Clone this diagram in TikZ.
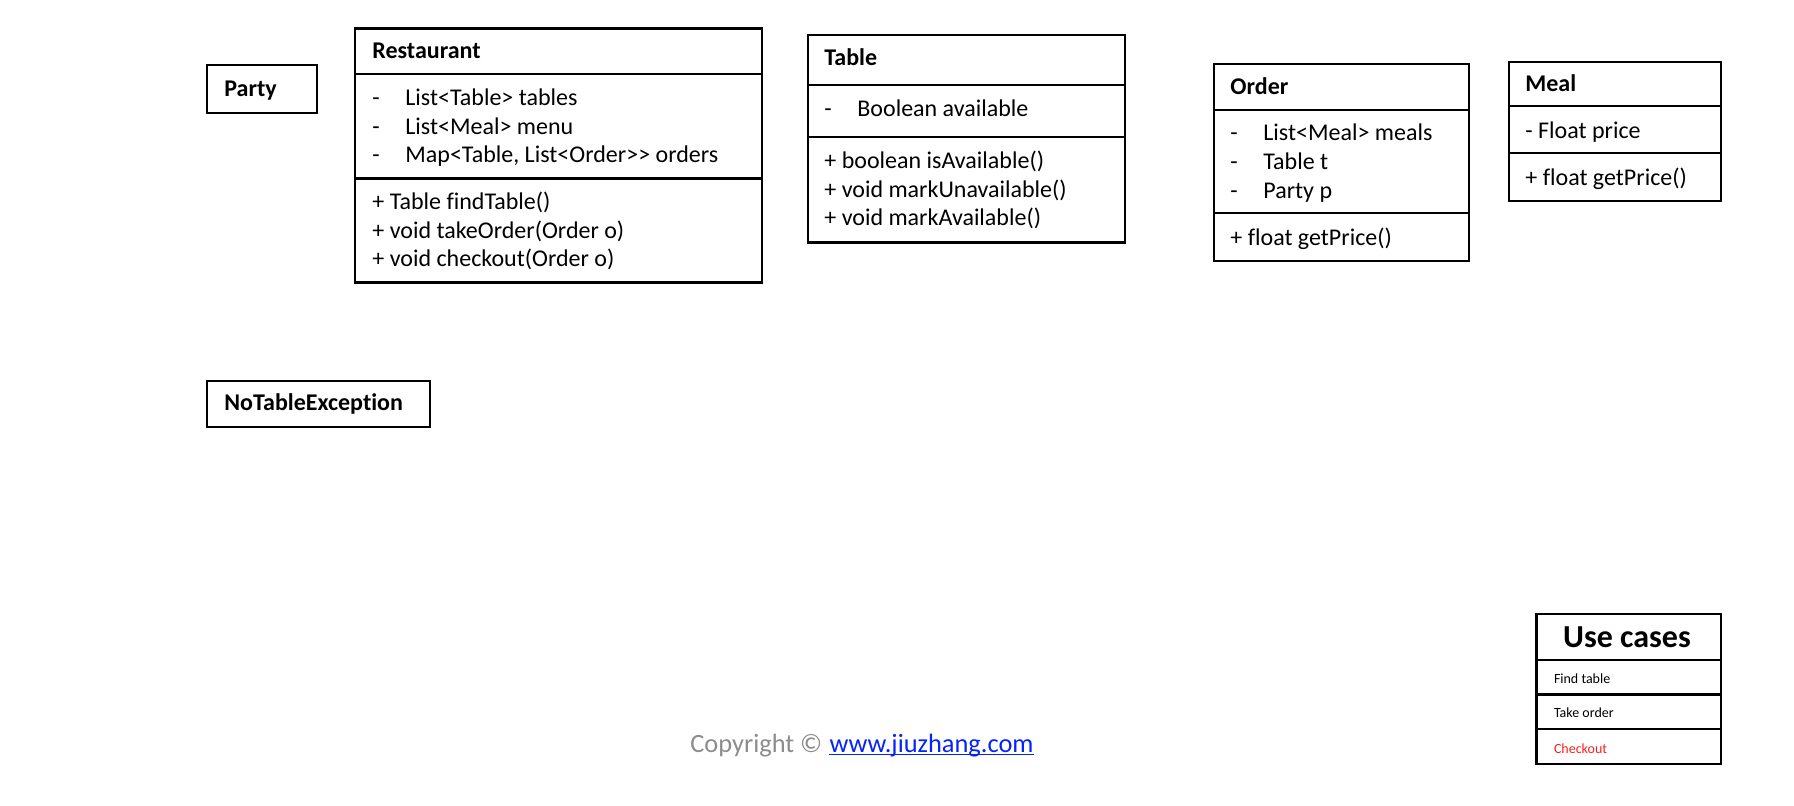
\documentclass[tikz,border=0pt]{standalone}
\usepackage{fontspec}
\setmainfont{Carlito}[Ligatures={NoCommon}]
\definecolor{cgrey}{RGB}{140,140,140}
\definecolor{clink}{RGB}{5,35,250}
\definecolor{cred}{RGB}{250,30,30}
\begin{document}
\begin{tikzpicture}[x=0.5pt,y=-0.5pt,
  box/.style={draw, line width=1.1pt, inner sep=0pt, anchor=north west},
  sep/.style={line width=1.1pt},
  txt/.style={inner sep=0pt, anchor=mid west, yshift=-1.7pt, font=\fontsize{12}{14}\selectfont},
  ttl/.style={inner sep=0pt, anchor=mid west, yshift=-1.7pt, font=\fontsize{12}{14}\selectfont\bfseries},
  small/.style={inner sep=0pt, anchor=mid west, yshift=-0.8pt, font=\fontsize{7}{8}\selectfont}]
\useasboundingbox (0,0) rectangle (1794,806);

% Party
\node[box, minimum width=55pt, minimum height=24pt] (party) at (206,64) {};
\node[ttl] (partyT) at (224,88) {Party};

% Restaurant
\node[box, minimum width=203.65pt, minimum height=126.95pt] (rest) at (353.5,27.5) {};
\draw[sep] (rest.west |- 0,74.4) -- (rest.east |- 0,74.4);
\draw[sep] (rest.west |- 0,178.5) -- (rest.east |- 0,178.5);
\node[ttl] (restT) at (372,50) {Restaurant};
\node[txt] (restD1) at (372,97) {-};
\node[txt] (restA1) at (405,97) {List<Table> tables};
\node[txt] (restD2) at (372,126) {-};
\node[txt] (restA2) at (405,126) {List<Meal> menu};
\node[txt] (restD3) at (372,154.5) {-};
\node[txt] (restA3) at (405,154.5) {Map<Table, List<Order>{}> orders};
\node[txt] (restM1) at (372,201) {+ Table findTable()};
\node[txt] (restM2) at (372,230) {+ void takeOrder(Order o)};
\node[txt] (restM3) at (372,258.5) {+ void checkout(Order o)};

% Table
\node[box, minimum width=158.45pt, minimum height=103.55pt] (table) at (806.6,34.3) {};
\draw[sep] (table.west |- 0,84.7) -- (table.east |- 0,84.7);
\draw[sep] (table.west |- 0,137.3) -- (table.east |- 0,137.3);
\node[ttl] (tableT) at (824,57) {Table};
\node[txt] (tableD1) at (824,108.7) {-};
\node[txt] (tableA1) at (857,108.7) {Boolean available};
\node[txt] (tableM1) at (824,160) {+ boolean isAvailable()};
\node[txt] (tableM2) at (824,189) {+ void markUnavailable()};
\node[txt] (tableM3) at (824,217) {+ void markAvailable()};

% Order
\node[box, minimum width=127.6pt, minimum height=98.4pt] (order) at (1212.7,62.9) {};
\draw[sep] (order.west |- 0,109.8) -- (order.east |- 0,109.8);
\draw[sep] (order.west |- 0,212.8) -- (order.east |- 0,212.8);
\node[ttl] (orderT) at (1230,86) {Order};
\node[txt] (orderD1) at (1230,132.7) {-};
\node[txt] (orderA1) at (1263,132.7) {List<Meal> meals};
\node[txt] (orderD2) at (1230,161.3) {-};
\node[txt] (orderA2) at (1263,161.3) {Table t};
\node[txt] (orderD3) at (1230,190) {-};
\node[txt] (orderA3) at (1263,190) {Party p};
\node[txt] (orderM1) at (1230,237) {+ float getPrice()};

% Meal
\node[box, minimum width=105.85pt, minimum height=69.8pt] (meal) at (1507.9,60.6) {};
\draw[sep] (meal.west |- 0,106.4) -- (meal.east |- 0,106.4);
\draw[sep] (meal.west |- 0,153.3) -- (meal.east |- 0,153.3);
\node[ttl] (mealT) at (1525,83.5) {Meal};
\node[txt] (mealA1) at (1525,130.4) {- Float price};
\node[txt] (mealM1) at (1525,177.3) {+ float getPrice()};

% NoTableException
\node[box, minimum width=111.5pt, minimum height=22.9pt] (ntex) at (206,379.8) {};
\node[ttl] (ntexT) at (224,402.7) {NoTableException};

% Use cases
\node[box, minimum width=92.1pt, minimum height=74.95pt] (uc) at (1535.4,613.2) {};
\draw[sep] (uc.west |- 0,660.1) -- (uc.east |- 0,660.1);
\draw[sep] (uc.west |- 0,694.4) -- (uc.east |- 0,694.4);
\draw[sep] (uc.west |- 0,728.8) -- (uc.east |- 0,728.8);
\node[inner sep=0pt, font=\fontsize{16}{18}\selectfont\bfseries] (ucT) at (1627,637) {Use cases};
\node[small] (uc1) at (1553.6,677) {Find table};
\node[small] (uc2) at (1553.6,711.6) {Take order};
\node[small, text=cred] (uc3) at (1553.6,747) {Checkout};

% Copyright
\node[inner sep=0pt, anchor=base west, text=cgrey, font=\fontsize{13.2}{15}\selectfont] (copy) at (690,752) {Copyright ©};
\node[inner sep=0pt, anchor=base west, text=clink, font=\fontsize{13.2}{15}\selectfont] (url) at ([xshift=3.3pt]copy.base east) {www.jiuzhang.com};
\draw[clink, line width=0.6pt] ([yshift=-1.3pt]url.base west) -- ([yshift=-1.3pt]url.base east);
\end{tikzpicture}
\end{document}
